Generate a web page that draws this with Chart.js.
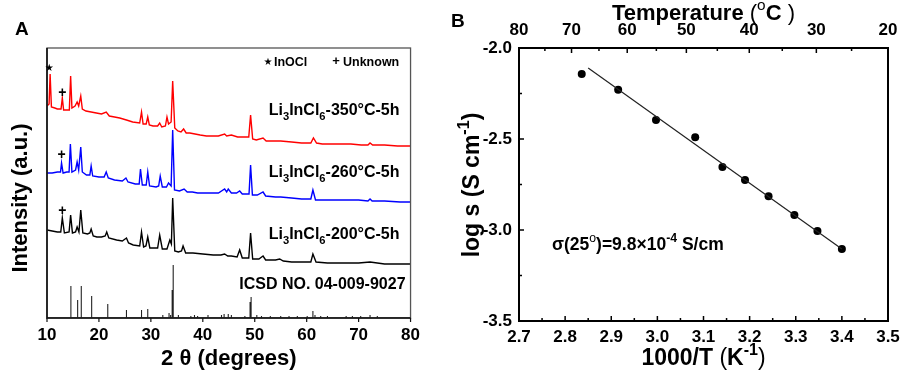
<!DOCTYPE html>
<html>
<head>
<meta charset="utf-8">
<script src="https://cdn.jsdelivr.net/npm/chart.js@4.4.1/dist/chart.umd.min.js"></script>
<style>
  body { margin: 0; background: #fff; }
  #wrap { position: relative; width: 906px; height: 378px; }
  canvas { position: absolute; top: 0; }
  #xrd { left: 0; }
  #arr { left: 420px; }
</style>
</head>
<body>
<div id="wrap">
  <canvas id="xrd" width="420" height="378"></canvas>
  <canvas id="arr" width="486" height="378"></canvas>
</div>
<script>
const FONT = "'Liberation Sans', Arial, sans-serif";

// ---- panel A: XRD patterns, [2theta, intensity] (stacked, arbitrary units)
const red350 = [[10.0,212],[10.4,214],[10.6,244],[10.85,211],[11.5,210],[12.0,209],[12.7,209],[12.95,220],[13.2,208],[13.8,208],
  [14.3,208],[14.55,242],[14.8,210],[15.4,212],[15.8,216],[16.1,212],[16.5,222],[16.8,209],[17.5,207],[18.5,206],
  [19.5,205],[20.5,204],[21.4,206],[22.0,202],[23.0,201],[24.0,200],[25.3,198],[26.5,196],[27.85,195],[28.2,206],
  [28.5,194],[29.1,194],[29.4,201],[29.7,193],[30.4,192],[31.3,192],[31.7,195],[32.1,191],[32.8,192],[33.1,201],
  [33.4,194],[33.9,196],[34.2,237],[34.6,190],[35.2,187],[35.8,186],[36.3,189],[36.8,185],[37.5,185],[38.5,184],
  [39.5,183],[40.7,182],[42,182],[43,182],[44.2,184],[44.6,182],[45.5,183],[46.7,181],[48,181],[48.85,181],
  [49.2,203],[49.6,179],[50.3,178],[51.6,180],[52.2,177],[54,177],[55,177],[57.1,176],[59,175],[60.8,175],
  [61.3,180],[61.9,175],[63,174],[64.5,174],[66.7,174],[68.5,174],[70.5,173],[71.8,173],[72.2,175],[72.7,173],
  [75,173],[77.5,172],[80,172]];
const blue260 = [[10.0,145],[11.0,145],[12.0,146],[12.6,146],[12.8,155],[13.1,145],[13.8,146],[14.25,146],[14.5,174],[14.8,146],
  [15.5,148],[15.8,156],[16.1,148],[16.5,171],[16.8,146],[17.6,143],[18.25,143],[18.5,152],[18.8,142],[20,141],
  [21.0,141],[21.4,146],[21.8,140],[23,138],[24.5,137],[25.2,140],[25.6,136],[27,134],[27.75,134],[28.0,149],
  [28.35,133],[29.1,133],[29.4,146],[29.75,132],[31.0,131],[31.5,132],[31.8,142],[32.2,131],[33.0,131],[33.4,135],
  [33.9,132],[34.2,188],[34.55,128],[35.5,127],[36.4,129],[37,126],[38,126],[39,125],[40.7,125],[42,125],
  [43,125],[44.2,129],[44.6,126],[44.9,129],[45.5,125],[46.5,125],[47.1,127],[47.6,124],[48.9,124],[49.2,153],
  [49.55,123],[50.5,123],[51.6,126],[52.1,122],[54,121],[55,121],[57.1,120],[59,119],[60.8,119],[61.2,128],
  [61.7,118],[64,118],[67,118],[70,118],[71.8,117],[72.2,119],[72.6,117],[75,117],[78,116],[80,116]];
const black200 = [[10.0,88],[11.0,87],[12.0,86],[12.65,86],[12.95,100],[13.35,85],[14.25,86],[14.55,103],[14.9,85],[15.5,86],
  [15.8,91],[16.15,86],[16.5,108],[16.9,85],[17.8,84],[18.25,85],[18.5,89],[18.9,82],[19.6,81],[20.5,81],
  [21.2,82],[21.5,86],[21.9,80],[23.4,78],[24.5,77],[25.3,80],[25.7,75],[26.6,73],[27.85,72],[28.2,86],
  [28.6,71],[29.05,72],[29.4,81],[29.8,70],[30.4,70],[31.3,70],[31.7,83],[32.2,69],[33.1,69],[33.65,78],
  [33.95,74],[34.2,120],[34.6,67],[35.3,66],[35.9,67],[36.2,72],[36.7,65],[38.1,65],[40,64],[42,63],
  [43.5,63],[44.2,64],[44.8,62],[45.5,62],[46.6,61],[47.1,68],[47.6,60],[48.85,60],[49.2,85],[49.6,59],
  [50.8,59],[51.6,62],[52.1,58],[54.0,58],[54.8,59],[55.5,57],[57.1,56],[59,56],[60.8,56],[61.2,64],
  [61.8,56],[64,55],[67,55],[70,55],[72.2,56],[75,54],[80,54]];
// reference pattern ICSD 04-009-9027 (stick positions and heights)
const icsdTheta = [14.6,15.9,16.6,18.6,21.7,25.3,28.2,29.4,32.3,33.5,33.8,34.1,34.3,35.3,37.7,38.4,39.0,41.0,43.6,44.1,
  44.9,45.5,48.1,49.1,49.3,50.4,51.3,53.0,55.0,56.6,58.2,60.1,61.2,61.6,62.7,64.0,67.6,68.8,70.4,72.2,73.6];
const icsdInt = [32,18,32,22,14,8,8,9,3,5,3,28,53,3,2,3,2,3,3,4,
  4,3,2,16,21,3,2,2,2,2,2,2,7,3,2,2,2,2,2,3,2];
const xrdTicks = [10,20,30,40,50,60,70,80];

// ---- panel B: Arrhenius plot
const invT = [2.836,2.915,2.997,3.082,3.141,3.190,3.241,3.297,3.347,3.400];
const logSigma = [-2.143,-2.230,-2.396,-2.490,-2.654,-2.725,-2.815,-2.918,-3.005,-3.104];
const fitInvT = [2.85,3.40];
const fitLogSigma = [-2.11,-3.105];
const tempTicks = [80,70,60,50,40,30,20];
const tempMinor = [75,65,55,45,35,25];

function fontFor(style, size) {
  const weight = style[0] === 'n' ? 'normal' : 'bold';
  const s = style.includes('su') ? size * 0.7 : size;
  return weight + ' ' + s + 'px ' + FONT;
}
// draw mixed text with sub/superscripts; y is the baseline
function richText(ctx, parts, x, y, size, align) {
  const widths = parts.map(p => { ctx.font = fontFor(p[1], size); return ctx.measureText(p[0]).width; });
  const total = widths.reduce((a, b) => a + b, 0);
  let cx = align === 'right' ? x - total : align === 'center' ? x - total / 2 : x;
  ctx.textAlign = 'left';
  ctx.textBaseline = 'alphabetic';
  parts.forEach((p, i) => {
    ctx.font = fontFor(p[1], size);
    const dy = p[1].includes('sub') ? size * 0.3 : p[1].includes('sup') ? -size * 0.45 : 0;
    ctx.fillText(p[0], cx, y + dy);
    cx += widths[i];
  });
}

const axisFont = { family: FONT, size: 17, weight: 'bold' };

// ---------- chart A ----------
const sticks = [];
icsdTheta.forEach((t, i) => {
  sticks.push({ x: t, y: 0 }, { x: t, y: icsdInt[i] }, { x: t, y: 0 });
});
sticks.unshift({ x: 10, y: 0 });
sticks.push({ x: 80, y: 0 });

const toXY = arr => arr.map(([x, y]) => ({ x, y }));

const decorA = {
  id: 'decorA',
  afterDraw(chart) {
    const { ctx, chartArea: a, scales: { x, y } } = chart;
    ctx.save();
    ctx.strokeStyle = '#555';
    ctx.lineWidth = 1.3;
    ctx.strokeRect(a.left, a.top, a.right - a.left, a.bottom - a.top);
    ctx.strokeStyle = '#111';
    ctx.lineWidth = 1.6;
    ctx.beginPath();
    ctx.moveTo(a.left, a.top); ctx.lineTo(a.left, a.bottom); ctx.lineTo(a.right, a.bottom);
    ctx.stroke();
    ctx.lineWidth = 1.2;
    ctx.beginPath();
    xrdTicks.forEach(v => {
      const px = x.getPixelForValue(v);
      ctx.moveTo(px, a.bottom); ctx.lineTo(px, a.bottom + 4);
    });
    ctx.stroke();

    ctx.fillStyle = '#000';
    // panel letter
    ctx.font = 'bold 19px ' + FONT;
    ctx.textAlign = 'left'; ctx.textBaseline = 'alphabetic';
    ctx.fillText('A', 15, 35);
    // legend of markers
    ctx.font = '10px DejaVu Sans';
    ctx.textAlign = 'center'; ctx.textBaseline = 'middle';
    ctx.fillText('\u2605', 268, 62);
    ctx.font = 'bold 13px ' + FONT;
    ctx.fillText('+', 336, 61);
    richText(ctx, [['InOCl', 'b']], 274, 66, 12.5, 'left');
    richText(ctx, [['Unknown', 'b']], 343, 66, 12.5, 'left');
    // peak markers
    ctx.font = '10px DejaVu Sans';
    ctx.textAlign = 'center'; ctx.textBaseline = 'middle';
    ctx.fillText('\u2605', x.getPixelForValue(10.45), y.getPixelForValue(250));
    ctx.font = 'bold 14px ' + FONT;
    [[12.95, 225], [12.8, 163], [12.95, 107]].forEach(([t, v]) => {
      ctx.fillText('+', x.getPixelForValue(t), y.getPixelForValue(v));
    });
    // trace labels
    const rx = a.right - 11;
    [['350', 203], ['260', 141], ['200', 79]].forEach(([temp, v]) => {
      richText(ctx, [['Li', 'b'], ['3', 'bsub'], ['InCl', 'b'], ['6', 'bsub'], ['-' + temp + '\u00b0C-5h', 'b']],
        rx, y.getPixelForValue(v), 16, 'right');
    });
    richText(ctx, [['ICSD NO. 04-009-9027', 'b']], a.right - 5, y.getPixelForValue(29), 16, 'right');
    // axis titles
    richText(ctx, [['2 ', 'b'], ['\u03b8', 'b'], [' (degrees)', 'b']], (a.left + a.right) / 2, 365, 22, 'center');
    ctx.translate(27, 198);
    ctx.rotate(-Math.PI / 2);
    richText(ctx, [['Intensity (a.u.)', 'b']], 0, 0, 22, 'center');
    ctx.restore();
  }
};

new Chart(document.getElementById('xrd'), {
  type: 'line',
  data: {
    datasets: [
      { data: toXY(red350), borderColor: '#ff0000', borderWidth: 1.4 },
      { data: toXY(blue260), borderColor: '#0000ff', borderWidth: 1.4 },
      { data: toXY(black200), borderColor: '#000000', borderWidth: 1.4 },
      { data: sticks, borderColor: '#222222', borderWidth: 1.1 }
    ]
  },
  options: {
    responsive: false,
    animation: false,
    elements: { point: { radius: 0 }, line: { tension: 0 } },
    layout: { padding: { left: 0, right: 9, top: 48, bottom: 0 } },
    plugins: { legend: { display: false }, tooltip: { enabled: false } },
    scales: {
      x: {
        type: 'linear', min: 10, max: 80,
        afterBuildTicks: s => { s.ticks = xrdTicks.map(v => ({ value: v })); },
        afterFit: s => { s.height = 60; },
        grid: { display: false, drawTicks: true, tickLength: 7 },
        border: { display: false },
        ticks: { font: axisFont, color: '#000', padding: 0, maxRotation: 0 }
      },
      y: {
        min: 0, max: 270,
        afterFit: s => { s.width = 47; },
        grid: { display: false, drawTicks: false },
        border: { display: false },
        ticks: { display: false }
      }
    }
  },
  plugins: [decorA]
});

// ---------- chart B ----------
const decorB = {
  id: 'decorB',
  afterDraw(chart) {
    const { ctx, chartArea: a, scales: { x, y, xTop } } = chart;
    ctx.save();
    ctx.strokeStyle = '#000';
    ctx.lineWidth = 2;
    ctx.strokeRect(a.left, a.top, a.right - a.left, a.bottom - a.top);
    ctx.lineWidth = 1.5;
    ctx.beginPath();
    for (let k = 0; k <= 16; k++) {
      const v = 2.7 + k * 0.05;
      const px = x.getPixelForValue(v);
      const len = k % 2 === 0 ? 5 : 3;
      ctx.moveTo(px, a.bottom); ctx.lineTo(px, a.bottom - len);
    }
    tempTicks.concat(tempMinor).forEach((t, i) => {
      const px = xTop.getPixelForValue(1000 / (t + 273));
      const len = i < tempTicks.length ? 5 : 3;
      ctx.moveTo(px, a.top); ctx.lineTo(px, a.top + len);
    });
    for (let k = 0; k <= 6; k++) {
      const v = -2.0 - k * 0.25;
      const py = y.getPixelForValue(v);
      const len = k % 2 === 0 ? 5 : 3;
      ctx.moveTo(a.left, py); ctx.lineTo(a.left + len, py);
    }
    ctx.stroke();

    ctx.fillStyle = '#000';
    ctx.font = 'bold 19px ' + FONT;
    ctx.textAlign = 'left'; ctx.textBaseline = 'alphabetic';
    ctx.fillText('B', 31, 27);
    const cx = (a.left + a.right) / 2;
    richText(ctx, [['Temperature ', 'b'], ['(', 'n'], ['o', 'nsup'], ['C', 'b'], [' )', 'n']], cx, 20, 22, 'center');
    richText(ctx, [['1000/T ', 'b'], ['(', 'n'], ['K', 'b'], ['-1', 'bsup'], [')', 'n']], cx, 365, 23, 'center');
    richText(ctx, [['\u03c3(25', 'b'], ['o', 'nsup'], [')=9.8\u00d710', 'b'], ['-4', 'bsup'], [' S/cm', 'b']],
      a.left + 33, 250, 17.5, 'left');
    ctx.translate(59, 185);
    ctx.rotate(-Math.PI / 2);
    richText(ctx, [['log s (S cm', 'b'], ['-1', 'bsup'], [')', 'b']], 0, 0, 23, 'center');
    ctx.restore();
  }
};

new Chart(document.getElementById('arr'), {
  type: 'scatter',
  data: {
    datasets: [
      {
        data: fitInvT.map((v, i) => ({ x: v, y: fitLogSigma[i] })),
        showLine: true, borderColor: '#222', borderWidth: 1.2, pointRadius: 0
      },
      {
        data: invT.map((v, i) => ({ x: v, y: logSigma[i] })),
        pointRadius: 4, pointBackgroundColor: '#000', pointBorderColor: '#000', pointBorderWidth: 0
      }
    ]
  },
  options: {
    responsive: false,
    animation: false,
    layout: { padding: { left: 0, right: 18, top: 0, bottom: 0 } },
    plugins: { legend: { display: false }, tooltip: { enabled: false } },
    scales: {
      x: {
        type: 'linear', position: 'bottom', min: 2.7, max: 3.5,
        afterBuildTicks: s => { s.ticks = Array.from({ length: 9 }, (_, k) => ({ value: 2.7 + k * 0.1 })); },
        afterFit: s => { s.height = 57; },
        grid: { display: false, drawTicks: false },
        border: { display: false },
        ticks: { font: axisFont, color: '#000', padding: 6, maxRotation: 0, callback: v => v.toFixed(1) }
      },
      xTop: {
        type: 'linear', position: 'top',
        min: 1000 / (80 + 273), max: 1000 / (20 + 273),
        afterBuildTicks: s => { s.ticks = tempTicks.map(t => ({ value: 1000 / (t + 273) })); },
        afterFit: s => { s.height = 48; },
        grid: { display: false, drawTicks: false },
        border: { display: false },
        ticks: { font: axisFont, color: '#000', padding: 7, maxRotation: 0,
          callback: v => String(Math.round(1000 / v - 273)) }
      },
      y: {
        min: -3.5, max: -2.0,
        afterBuildTicks: s => { s.ticks = [-3.5, -3.0, -2.5, -2.0].map(v => ({ value: v })); },
        afterFit: s => { s.width = 99; },
        grid: { display: false, drawTicks: false },
        border: { display: false },
        ticks: { font: axisFont, color: '#000', padding: 7, callback: v => v.toFixed(1) }
      }
    }
  },
  plugins: [decorB]
});
</script>
</body>
</html>
